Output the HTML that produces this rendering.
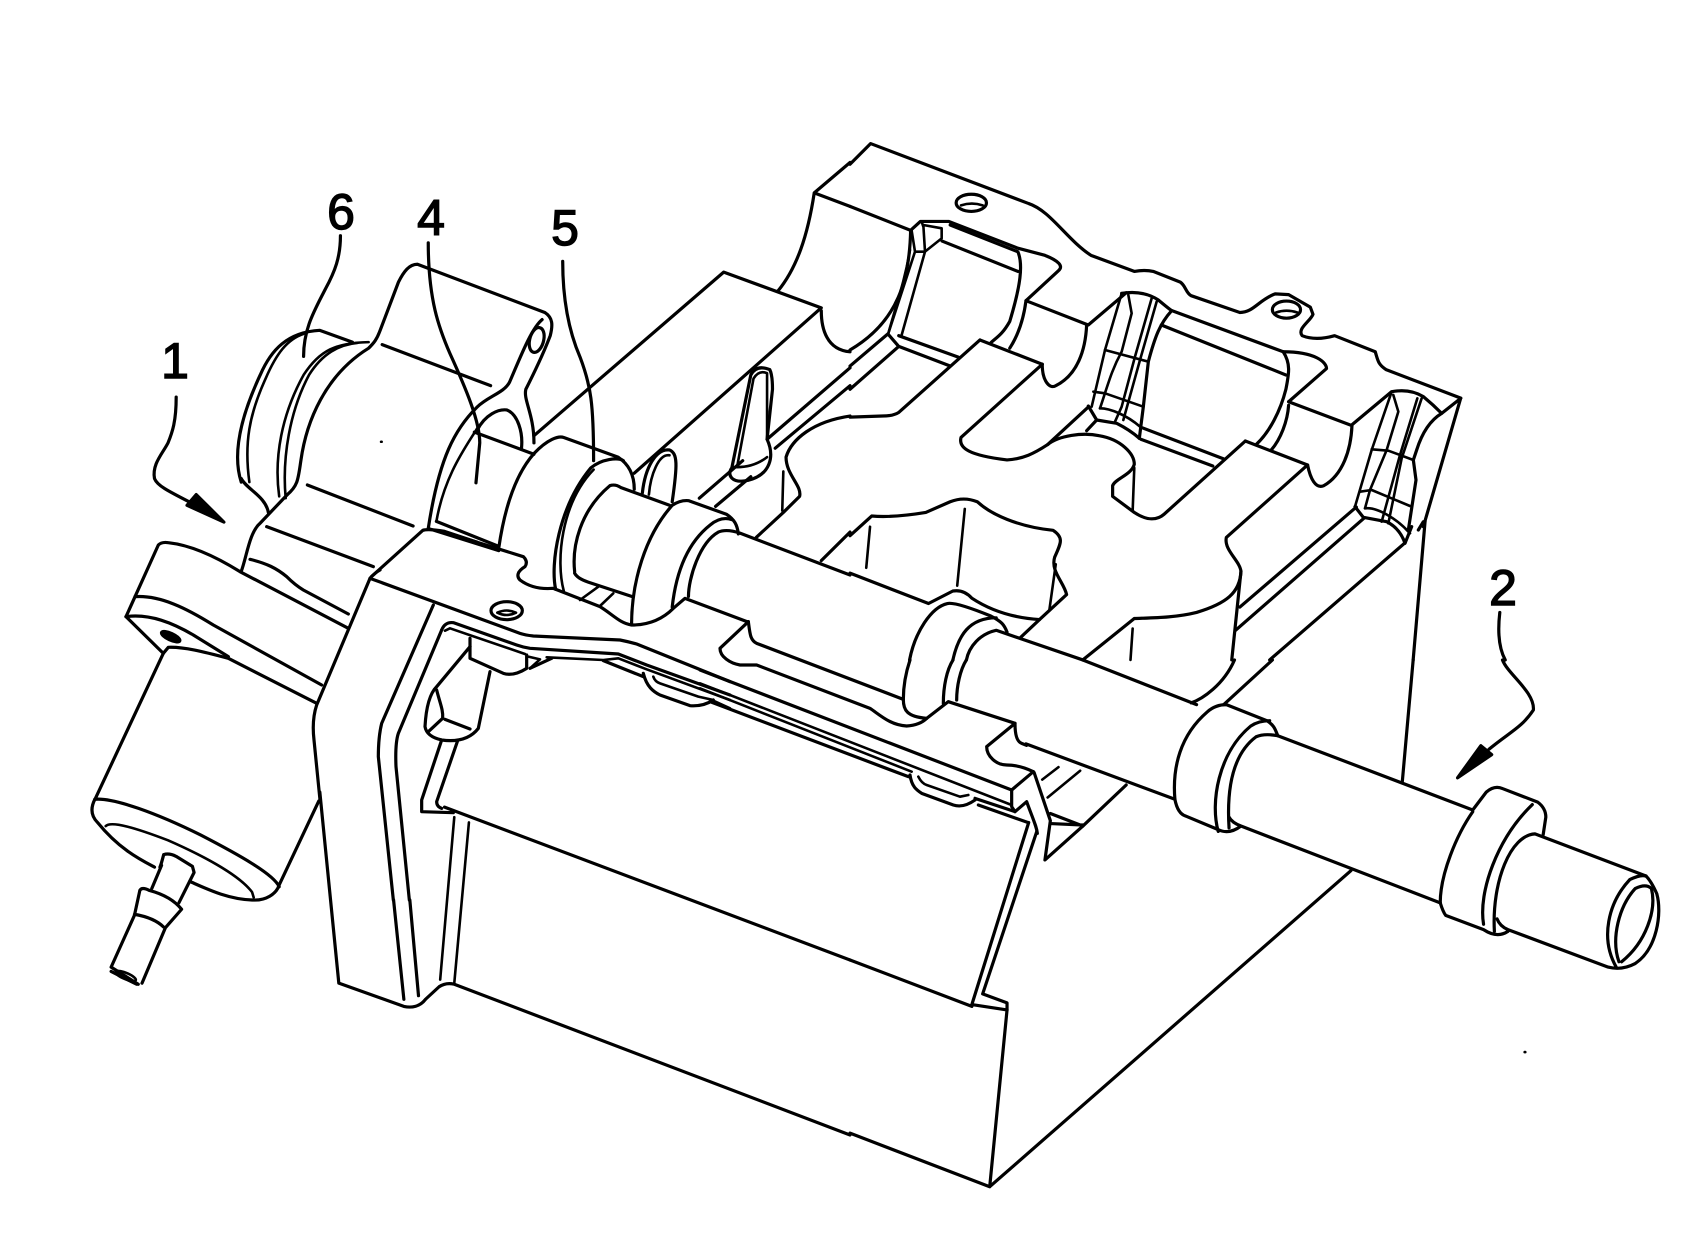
<!DOCTYPE html>
<html><head><meta charset="utf-8"><style>
html,body{margin:0;padding:0;background:#fff}
svg{display:block}
path,ellipse{fill:none;stroke:#000;stroke-width:3.2;stroke-linejoin:round;stroke-linecap:round;vector-effect:non-scaling-stroke}
.f{fill:#000}
.t{stroke-width:2.6}
text{font-family:"Liberation Sans",sans-serif;font-size:50px;text-anchor:middle;fill:#000;stroke:#000;stroke-width:1.4}
</style></head><body>
<svg width="1699" height="1245" viewBox="0 0 1699 1245" xmlns="http://www.w3.org/2000/svg">
<rect width="1699" height="1245" fill="#fff"/>
<text x="341" y="229">6</text><text x="431" y="235">4</text><text x="565" y="245">5</text><text x="175" y="378">1</text><text x="1503" y="605">2</text>

<g transform="translate(0 100) scale(.5421 .3571)">
<path d="M628 380C628 440 618 480 600 530C580 590 560 640 560 718"/>
<path d="M790 400C790 560 810 640 830 710C860 810 885 900 885 960L878 1072"/>
<path d="M1038 452C1038 560 1050 650 1070 720C1090 800 1095 850 1095 1010"/>
<path d="M325 832C325 900 318 930 310 960C300 990 280 1020 285 1060C290 1080 310 1095 355 1130"/>
<path class="f" d="M413 1182L345 1135L362 1105Z"/>
<path d="M445 1070C430 1000 440 900 480 770C500 700 530 650 590 645L650 678"/>
<path class="t" d="M460 1070C450 960 460 880 490 780C510 710 530 670 560 655"/>
<path d="M445 1060C455 1090 490 1110 495 1155"/>
<path class="t" d="M515 1110C505 1000 520 880 560 770C590 700 620 680 680 678"/>
<path class="t" d="M527 1115C520 1000 535 870 570 770C595 710 625 685 660 680"/>
<path d="M530 1105C550 1080 550 1060 555 1010C565 900 600 770 680 695C690 680 695 670 700 650L735 510C745 480 755 460 770 460L1005 595C1020 610 1020 630 1015 660C1005 700 990 750 970 810C965 840 985 880 985 960"/>
<ellipse cx="990" cy="672" rx="13" ry="35" transform="rotate(8 990 672)"/>
<path d="M1000 615C980 640 960 720 940 790C930 820 900 830 880 860C840 920 810 1000 790 1200"/>
<path class="t" d="M880 920C860 970 820 1050 805 1180"/>
<path d="M880 925C895 880 920 865 935 868C955 880 965 930 962 975"/>
<path d="M875 930L985 992"/>
<path d="M705 685L905 800M567 1078L762 1193"/>
<path d="M530 1105L480 1185C460 1210 455 1280 445 1320"/>
<path d="M685 1335L780 1205Q790 1200 820 1208L880 1238"/>
<path d="M805 1180L920 1250M790 1200L920 1262"/>
<path d="M920 1255C930 1150 950 1050 985 990C1010 950 1030 940 1040 945L1140 1000C1160 1020 1170 1050 1170 1090"/>
<path d="M1025 1370C1015 1300 1030 1140 1090 1030C1110 1005 1140 1000 1150 1010"/>
<path class="t" d="M1040 1375C1025 1290 1035 1130 1095 1035"/>
<path d="M1060 1320C1055 1250 1070 1150 1125 1080Q1135 1075 1145 1085L1235 1135"/>
<path d="M1060 1325Q1065 1340 1085 1350L1165 1390"/>
<path d="M1165 1470C1165 1350 1190 1220 1240 1135Q1255 1120 1270 1122L1340 1160C1355 1175 1360 1190 1362 1215"/>
<path d="M1240 1420C1245 1350 1260 1250 1310 1190Q1330 1165 1350 1175"/>
<path d="M1270 1390C1270 1340 1290 1240 1325 1210Q1340 1200 1365 1213L1568 1330"/>
<path d="M985 940L1335 482L1515 582L1170 1045"/>
<path d="M1435 535C1470 470 1490 380 1502 260L1568 175M1502 260L1568 298"/>
<path d="M1515 590C1515 640 1525 700 1568 705"/>
<path d="M1350 1030L1385 770Q1395 740 1420 755Q1425 770 1425 810L1415 950C1430 1000 1420 1050 1380 1065C1350 1075 1340 1050 1350 1030"/>
<path class="t" d="M1360 1025L1390 780Q1400 755 1415 765L1415 950M1355 1028Q1390 1030 1415 1000"/>
<path d="M1185 1100C1190 1030 1210 975 1235 980C1250 990 1250 1020 1240 1125"/>
<path class="t" d="M1197 1105C1200 1050 1215 990 1235 995"/>
<path d="M1290 1115L1370 1010M1320 1138L1385 1055M1415 950L1568 750M1430 975L1568 800"/>
<path d="M1568 885C1500 900 1460 950 1450 1000C1450 1050 1480 1080 1475 1110L1445 1155L1395 1225"/>
<path class="t" d="M1445 1040L1443 1150"/>
<path d="M1568 1210L1515 1290"/>
<path class="t" d="M703 957h1"/>
</g>

<g transform="translate(850 100) scale(.5415 .3571)">
<path d="M0 180L38 122L330 290C370 310 400 390 445 435L525 480Q545 475 560 480L610 510C620 520 620 540 630 548L720 595C745 595 755 560 785 543L810 545L850 580L855 600C850 620 825 640 835 660Q860 675 895 660L970 705C975 730 975 740 990 755L1128 835"/>
<ellipse cx="224" cy="288" rx="28" ry="24"/><path class="t" d="M205 295Q225 285 245 295"/>
<ellipse cx="806" cy="587" rx="26" ry="24"/><path class="t" d="M787 595Q806 585 826 595"/>
<path d="M0 298L112 365L130 340L182 340L310 415L360 435C385 450 395 465 385 478L325 562L440 630L510 540"/>
<path d="M112 365C110 500 90 620 0 700"/>
<path d="M170 395L310 480M185 350L310 425C320 460 315 520 295 620C280 660 270 665 260 680"/>
<path d="M325 562C320 620 310 660 295 695"/>
<path d="M70 655L90 690L185 745M90 660L200 720M70 655L0 745M90 690L0 810"/>
<path d="M240 672L355 740M240 672L90 875Q80 885 60 885L0 888"/>
<path d="M355 740L205 945C200 975 220 995 290 1008C320 1005 340 990 365 965C385 940 430 930 460 940C500 950 525 990 525 1020C520 1050 490 1060 485 1080L485 1110L525 1155C545 1175 565 1180 580 1160L730 955"/>
<path class="t" d="M525 1030L522 1150"/>
<path d="M730 955L845 1022L695 1225C690 1260 720 1290 722 1320C720 1380 695 1410 640 1435C600 1450 560 1450 525 1452L430 1568"/>
<path d="M355 740C355 790 370 810 380 800C420 770 435 700 437 630"/>
<path d="M845 1022C850 1060 860 1090 875 1080C910 1050 925 980 927 912M810 845L927 912"/>
<path d="M810 845L880 752C880 735 860 705 800 705"/>
<path d="M595 590L800 705C815 740 810 770 805 810C795 870 775 930 750 965"/>
<path d="M810 855C808 900 795 950 778 980M805 770L575 630"/>
<path d="M440 860L365 965"/>
<path d="M540 918L690 1005M537 950L670 1025"/>
<path d="M935 1140L720 1420M950 1170L712 1485M1025 1240L775 1568"/>
<path d="M1062 1180L1040 1568"/>
<path d="M722 1320L705 1568"/>
<path d="M0 1220L40 1165Q80 1170 140 1155L185 1125Q210 1110 235 1125C260 1160 310 1195 375 1205C395 1225 390 1240 378 1280C370 1320 395 1350 400 1385L350 1455L315 1505"/>
<path class="t" d="M380 1300L368 1430M37 1195L30 1310M212 1145L198 1360"/>
<path d="M0 1325L145 1410L190 1375Q210 1370 225 1395C260 1430 300 1450 350 1455"/>
<path d="M110 1568C120 1490 150 1420 180 1410Q195 1405 260 1445C280 1460 285 1470 290 1490"/>
<path d="M190 1568C200 1500 220 1450 270 1450M215 1568C220 1530 240 1495 270 1485L430 1568"/>
<path class="t" d="M522 1480L518 1568"/>
<path d="M1200 1435C1195 1500 1200 1540 1210 1568"/>
</g>

<g transform="translate(0 660) scale(.5421 .3571)">
<path d="M590 370L625 905L745 970C760 975 775 970 785 950L810 915C820 905 830 905 838 908L1568 1330"/>
<path d="M588 395L515 630C510 655 490 675 465 672C420 670 380 640 350 620"/>
<path d="M175 390C210 385 290 430 370 490C440 545 505 600 515 635"/>
<path d="M175 390C165 420 170 440 180 455C220 530 260 560 285 580"/>
<path class="t" d="M195 465C205 450 250 470 310 505C370 545 440 600 465 650L468 665"/>
<path d="M298 575L280 640M302 545C300 555 298 570 295 580M302 545Q312 540 325 550L355 578L358 595L330 680"/>
<path d="M258 645L248 715L205 860M258 645Q262 635 275 645C300 655 320 670 335 698L305 750L262 905M248 712C270 718 290 730 302 748M205 860L255 908M205 872L252 908"/>
<ellipse class="t" cx="232" cy="885" rx="22" ry="8" transform="rotate(35 232 885)"/>
<path d="M726 672L745 950M756 672L772 940"/>
<path d="M820 412L1568 840"/>
<path class="t" d="M838 440L812 895M865 455L838 905"/>
</g>

<g transform="translate(850 660) scale(.5415 .3571)">
<path d="M325 235L600 390"/>
<path d="M330 455L225 965L290 980M345 480L245 935L290 960L290 980M225 970L0 840"/>
<path d="M340 315L370 450L360 560L430 465"/>
<path class="t" d="M365 385L425 310M355 335L385 300"/>
<path d="M430 465L510 350M370 430L430 465M370 458L430 462"/>
<path d="M290 980L258 1475L0 1325M258 1475L925 590"/>
<path d="M1040 0L1020 340"/>
<path d="M430 0L640 125M630 120C650 110 690 70 710 0M690 125L780 0"/>
<path d="M600 390C595 300 610 210 660 145Q675 125 695 125L770 170C785 185 785 195 790 212"/>
<path d="M680 480C665 400 680 260 740 185Q755 170 775 170"/>
<path d="M700 470C695 350 710 260 750 215Q765 205 790 212L1150 420"/>
<path d="M600 390Q605 430 620 437L680 475Q700 490 722 465L1090 680M700 440Q705 455 722 465"/>
<path d="M1150 420L1175 370Q1190 350 1205 360L1270 398Q1285 415 1285 440L1280 490"/>
<path d="M1090 680C1090 600 1120 490 1150 425"/>
<path d="M1170 740C1160 650 1195 500 1260 405"/>
<path d="M1190 760C1185 620 1220 490 1265 487L1470 605"/>
<path d="M1090 680Q1095 705 1100 715L1170 755Q1195 780 1215 760"/>
<path d="M1195 725Q1200 745 1215 755L1400 860Q1425 870 1450 850C1490 810 1500 710 1490 655Q1480 620 1470 605"/>
<path d="M1415 860C1385 780 1400 680 1440 615Q1460 600 1470 605"/>
<path d="M1420 845C1405 780 1420 690 1450 640Q1470 625 1480 640C1490 700 1470 790 1425 845"/>
<path d="M1205 0C1215 40 1265 90 1262 140C1240 190 1220 200 1180 250"/>
<path class="f" d="M1122 330L1165 240L1185 265Z"/>
<path class="t" d="M1246 1098h1"/>
</g>

<!-- flange -->
<g transform="translate(100 520) scale(.33333)">
<path d="M500 20L820 140"/>
<path d="M450 118C500 130 530 145 560 170Q585 195 610 210L745 282"/>
<path d="M78 290L175 75Q185 65 205 68C270 75 340 105 420 155L745 325"/>
<path d="M105 230C180 225 260 265 340 315L665 495"/>
<path d="M78 290C150 280 220 310 280 345L385 410"/>
<path d="M78 290L190 400L205 382C250 380 310 395 385 415L650 550"/>
<path d="M190 400L-15 838"/>
<ellipse class="f" cx="212" cy="350" rx="30" ry="10" transform="rotate(25 212 350)"/>
<path d="M840 150Q825 158 810 175L650 555Q635 600 642 660L660 840"/>
</g>

<!-- plate left and slot -->
<g transform="translate(370 540) scale(.33333)">
<path d="M0 115L450 280Q465 285 490 288L750 300Q775 305 800 312L1080 425"/>
<path d="M190 195L35 550Q25 590 25 650L70 1080"/>
<path d="M215 270L85 580Q75 610 78 680L118 1080"/>
<path d="M215 270Q225 245 250 248L440 315Q460 322 480 325L745 342L830 375L1080 465"/>
<path class="t" d="M225 272L240 265L465 342"/>
<path class="t" d="M530 352L700 360L745 355L830 388L1080 480"/>
<path d="M480 385L545 355M700 362L820 410"/>
<path d="M300 320L200 440Q170 470 165 560Q170 590 215 600Q290 610 325 565L360 395"/>
<path d="M300 295L300 355L400 400Q430 410 470 385L470 345"/>
<path class="t" d="M475 350L510 358L480 385"/>
<path d="M200 450C210 490 220 510 218 535L175 575M225 538L300 567"/>
<path d="M215 600L155 780L155 815L250 818"/>
<path d="M262 605L200 785Q200 800 215 805"/>
<ellipse cx="410" cy="212" rx="47" ry="27"/>
<path class="t" d="M382 218Q410 205 438 218Q410 232 382 218"/>
<path d="M300 0L460 50Q475 65 465 80C440 95 440 110 450 120Q490 150 550 145L690 200C730 225 750 250 785 255Q860 255 910 205L945 175L1134 246"/>
<path class="t" d="M630 180L685 140M690 198L730 160"/>
<path d="M820 400C830 440 850 455 870 465L960 497Q1000 500 1030 480"/>
<path class="t" d="M850 410Q855 425 870 430L985 470L1030 480M1030 482L1080 505"/>
</g>

<!-- plate right -->
<g transform="translate(700 620) scale(.33333)">
<path d="M0 150L935 510"/>
<path class="t" d="M0 190L935 555M0 205L635 455"/>
<path d="M30 245L625 470M825 535L945 575M835 555L985 608"/>
<path d="M630 465C635 500 650 510 665 520L760 555Q790 565 825 540"/>
<path class="t" d="M655 470Q665 490 680 495L780 530L805 525"/>
<path d="M935 510L935 560Q945 575 945 575L980 545C1000 600 1010 620 1012 640"/>
<path d="M935 510L1000 455"/>
<path d="M145 5L60 85C60 110 90 130 120 135L170 135L510 265C540 285 570 315 620 318Q660 315 680 295L745 245L945 310L860 380C860 410 890 435 920 435Q960 435 1000 455"/>
<path d="M945 310C945 340 950 365 965 370L980 376"/>
<path d="M145 5C150 40 150 60 170 70L610 238C610 190 620 150 630 120"/>
<path d="M610 238C610 270 620 290 680 295"/>
<path d="M730 250C730 200 740 150 759 120M770 240C770 200 780 150 799 120"/>
</g>

<!-- pocket 1 interior -->
<g transform="translate(880 200) scale(.33333)">
<path class="t" d="M90 150C75 240 50 310 25 400"/>
<path class="t" d="M95 92L105 155L135 155L185 115L185 85L130 75L135 155M125 65L130 80M135 155L65 405M105 155L25 400"/>
</g>

<!-- pocket 2 interior -->
<g transform="translate(1080 280) scale(.33333)">
<path d="M125 40Q190 30 235 60Q265 85 275 92"/>
<path d="M275 92C240 130 225 170 205 245L190 380L178 475"/>
<path class="t" d="M125 40L75 210L35 380M145 45L155 100L125 215C95 270 85 310 60 385M215 55L165 230L125 380L105 425M230 65L180 240L130 420"/>
<path class="t" d="M75 210L205 245M40 335L75 340L190 380M60 385C90 385 140 405 180 440"/>
<path d="M25 378L50 420L110 430Q150 450 178 475M50 420L20 452"/>
</g>

<!-- pocket 3 interior -->
<g transform="translate(1330 380) scale(.33333)">
<path d="M65 135L185 35Q240 25 280 50Q310 75 335 100L392 55L280 440"/>
<path d="M335 100Q285 130 260 210L250 240L258 300L235 450"/>
<path class="t" d="M185 35L125 210L75 380M190 45L205 95L170 210L120 330L105 385M262 55L210 225L155 425M275 55L215 235L175 430"/>
<path class="t" d="M125 208L175 212L250 240M90 335L125 330L240 378M105 385C140 380 200 415 240 460"/>
<path d="M75 380L100 412L170 425Q210 445 225 490L245 440"/>
<path d="M265 450L280 425L285 425"/>
</g>
</svg>
</body></html>
